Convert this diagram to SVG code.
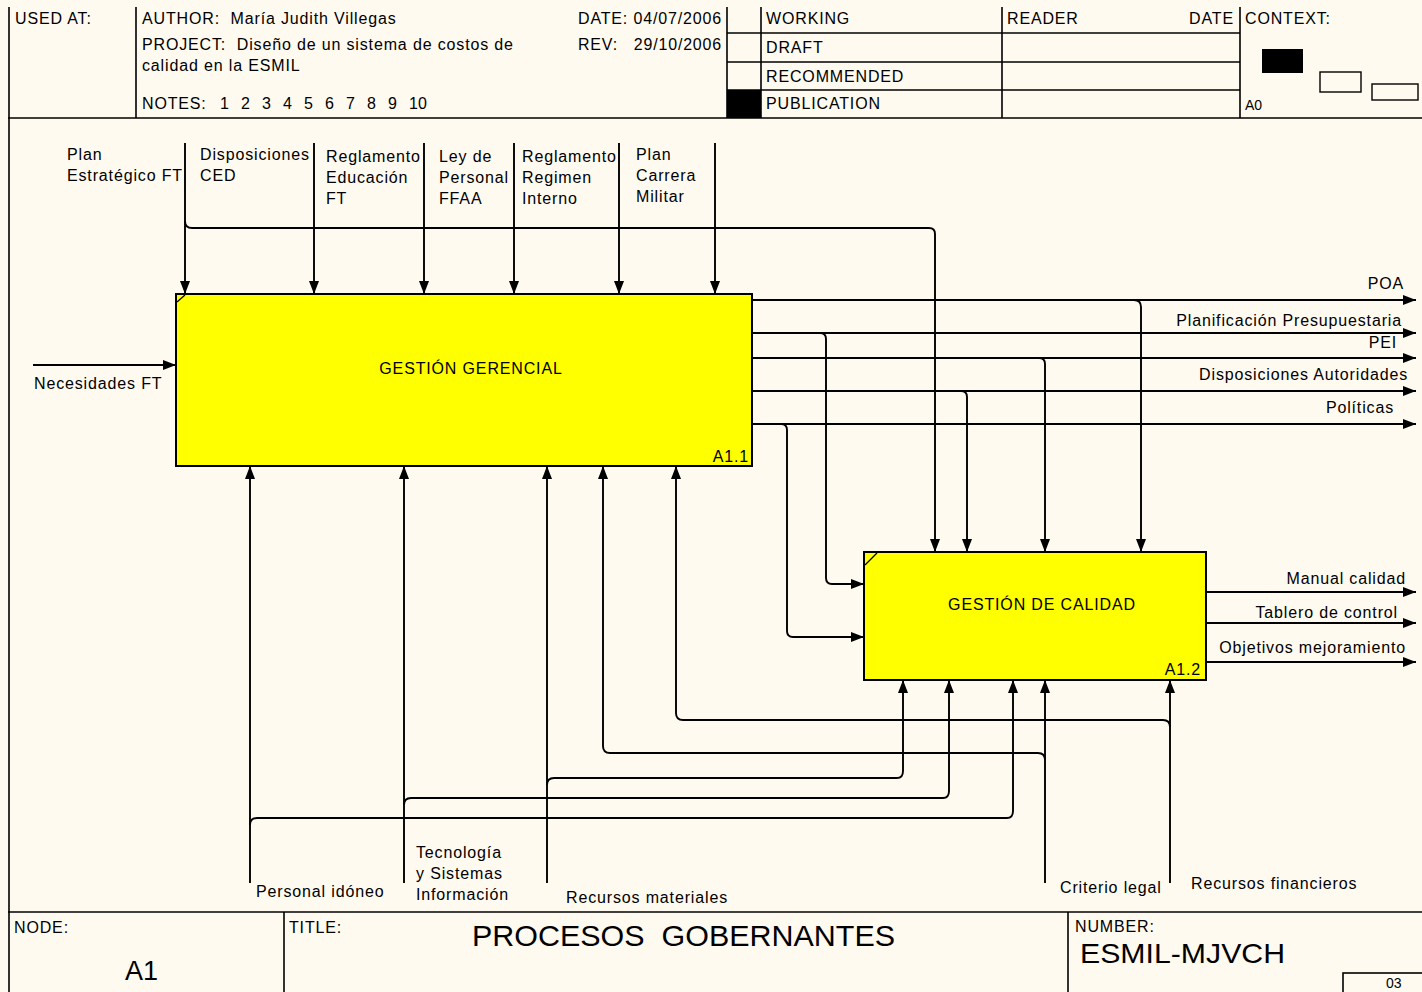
<svg xmlns="http://www.w3.org/2000/svg" width="1422" height="992" viewBox="0 0 1422 992">
<defs>
<style>
.t{font-family:"Liberation Sans",Arial,sans-serif;font-size:16px;fill:#000;letter-spacing:0.85px}
.e{text-anchor:end}
.m{text-anchor:middle}
.ln{stroke:#000;stroke-width:1.9;fill:none}
.ar{marker-end:url(#ah)}
.box{fill:#FFFF00;stroke:#000;stroke-width:2}
.fr{stroke:#000;stroke-width:1.6;fill:none}
</style>
<marker id="ah" markerUnits="userSpaceOnUse" markerWidth="13" markerHeight="11" refX="13" refY="5.5" orient="auto">
<path d="M0,0.5 L13,5.5 L0,10.5 Z" fill="#000"/>
</marker>
</defs>
<rect x="0" y="0" width="1422" height="992" fill="#FFFAF0"/>

<g id="frame">
<line class="fr" x1="9" y1="7" x2="9" y2="992"/>
<line class="fr" x1="8" y1="118" x2="1422" y2="118" stroke-width="2.2"/>
<line class="fr" x1="8" y1="912" x2="1422" y2="912" stroke-width="2.2"/>
<line class="fr" x1="136" y1="7" x2="136" y2="118"/>
<line class="fr" x1="727" y1="7" x2="727" y2="118"/>
<line class="fr" x1="761" y1="7" x2="761" y2="118"/>
<line class="fr" x1="1002" y1="7" x2="1002" y2="118"/>
<line class="fr" x1="1240" y1="7" x2="1240" y2="118"/>
<line class="fr" x1="727" y1="33" x2="1240" y2="33"/>
<line class="fr" x1="727" y1="62" x2="1240" y2="62"/>
<line class="fr" x1="727" y1="90" x2="1240" y2="90"/>
<rect x="727" y="90" width="34" height="28" fill="#000"/>
<rect x="1262" y="49" width="41" height="24" fill="#000"/>
<rect x="1320" y="72" width="41" height="20" fill="none" stroke="#000" stroke-width="1.4"/>
<rect x="1372" y="84" width="46" height="16" fill="none" stroke="#000" stroke-width="1.4"/>
<line class="fr" x1="284" y1="912" x2="284" y2="992"/>
<line class="fr" x1="1068" y1="912" x2="1068" y2="992"/>
<rect x="1343" y="973" width="82" height="22" fill="none" stroke="#000" stroke-width="1.6"/>
</g>

<g id="header-text" class="t">
<text x="15" y="24">USED AT:</text>
<text x="142" y="24">AUTHOR:&#160; María Judith Villegas</text>
<text x="578" y="24" textLength="144" lengthAdjust="spacingAndGlyphs">DATE: 04/07/2006</text>
<text x="142" y="50">PROJECT:&#160; Diseño de un sistema de costos de</text>
<text x="578" y="50" textLength="144" lengthAdjust="spacingAndGlyphs">REV:&#160;&#160; 29/10/2006</text>
<text x="142" y="71">calidad en la ESMIL</text>
<text x="142" y="109">NOTES:</text>
<text x="220 241 262 283 304 325 346 367 388 409 418" y="109" style="letter-spacing:0">12345678910</text>
<text x="766" y="24">WORKING</text>
<text x="1007" y="24">READER</text>
<text class="t e" x="1234" y="24">DATE</text>
<text x="1245" y="24">CONTEXT:</text>
<text x="766" y="53">DRAFT</text>
<text x="766" y="82">RECOMMENDED</text>
<text x="766" y="109">PUBLICATION</text>
<text x="1245" y="110" style="font-size:14px;letter-spacing:0">A0</text>
</g>

<g id="footer-text" class="t">
<text x="14" y="933">NODE:</text>
<text x="125" y="980" style="font-size:27px;letter-spacing:0">A1</text>
<text x="289" y="933">TITLE:</text>
<text x="472" y="946" style="font-size:30px;letter-spacing:0" textLength="423" lengthAdjust="spacingAndGlyphs">PROCESOS&#160; GOBERNANTES</text>
<text x="1075" y="932">NUMBER:</text>
<text x="1080" y="963" style="font-size:28px;letter-spacing:0" textLength="205" lengthAdjust="spacingAndGlyphs">ESMIL-MJVCH</text>
<text x="1386" y="988" style="font-size:14px;letter-spacing:0">03</text>
</g>

<g id="node-A1.1">
<rect class="box" x="176" y="294" width="576" height="172"/>
<line x1="177" y1="302" x2="185" y2="295" stroke="#000" stroke-width="1.2"/>
<text class="t m" x="471" y="374">GESTIÓN GERENCIAL</text>
<text class="t e" x="749" y="462">A1.1</text>
</g>

<g id="node-A1.2">
<rect class="box" x="864" y="552" width="342" height="128"/>
<line x1="865" y1="565" x2="877" y2="553" stroke="#000" stroke-width="1.2"/>
<text class="t m" x="1042" y="610">GESTIÓN DE CALIDAD</text>
<text class="t e" x="1201" y="675">A1.2</text>
</g>

<g id="connectors">
<path class="ln ar" d="M185,143 L185,294"/>
<path class="ln ar" d="M314,143 L314,294"/>
<path class="ln ar" d="M424,143 L424,294"/>
<path class="ln ar" d="M514,143 L514,294"/>
<path class="ln ar" d="M619,143 L619,294"/>
<path class="ln ar" d="M715,143 L715,294"/>
<path class="ln ar" d="M185,221 Q185,228 192,228 L929,228 Q935,228 935,234 L935,552"/>
<path class="ln ar" d="M33,365 L176,365"/>
<path class="ln ar" d="M752,300 L1416,300"/>
<path class="ln ar" d="M752,333 L1416,333"/>
<path class="ln ar" d="M752,358 L1416,358"/>
<path class="ln ar" d="M752,391 L1416,391"/>
<path class="ln ar" d="M752,424 L1416,424"/>
<path class="ln ar" d="M1134,300 Q1141,300 1141,307 L1141,552"/>
<path class="ln ar" d="M1039,358 Q1045,358 1045,364 L1045,552"/>
<path class="ln ar" d="M961,391 Q967,391 967,397 L967,552"/>
<path class="ln ar" d="M820,333 Q826,333 826,339 L826,578 Q826,584 832,584 L864,584"/>
<path class="ln ar" d="M781,424 Q787,424 787,430 L787,631 Q787,637 793,637 L864,637"/>
<path class="ln ar" d="M1206,592 L1416,592"/>
<path class="ln ar" d="M1206,623 L1416,623"/>
<path class="ln ar" d="M1206,662 L1416,662"/>
<path class="ln ar" d="M250,883 L250,466"/>
<path class="ln ar" d="M404,883 L404,466"/>
<path class="ln ar" d="M547,883 L547,466"/>
<path class="ln ar" d="M1045,883 L1045,680"/>
<path class="ln ar" d="M1170,883 L1170,680"/>
<path class="ln ar" d="M547,785 Q547,778 554,778 L897,778 Q903,778 903,771 L903,680"/>
<path class="ln ar" d="M404,805 Q404,798 411,798 L943,798 Q949,798 949,791 L949,680"/>
<path class="ln ar" d="M250,825 Q250,818 257,818 L1007,818 Q1013,818 1013,811 L1013,680"/>
<path class="ln ar" d="M1045,760 Q1045,753 1038,753 L610,753 Q603,753 603,746 L603,466"/>
<path class="ln ar" d="M1170,727 Q1170,720 1163,720 L683,720 Q676,720 676,713 L676,466"/>
</g>

<g id="labels" class="t">
<text x="67" y="160">Plan</text>
<text x="67" y="181">Estratégico FT</text>
<text x="200" y="160">Disposiciones</text>
<text x="200" y="181">CED</text>
<text x="326" y="162">Reglamento</text>
<text x="326" y="183">Educación</text>
<text x="326" y="204">FT</text>
<text x="439" y="162">Ley de</text>
<text x="439" y="183">Personal</text>
<text x="439" y="204">FFAA</text>
<text x="522" y="162">Reglamento</text>
<text x="522" y="183">Regimen</text>
<text x="522" y="204">Interno</text>
<text x="636" y="160">Plan</text>
<text x="636" y="181">Carrera</text>
<text x="636" y="202">Militar</text>
<text x="34" y="389">Necesidades FT</text>
<text class="t e" x="1404" y="289">POA</text>
<text class="t e" x="1402" y="326">Planificación Presupuestaria</text>
<text class="t e" x="1397" y="348">PEI</text>
<text class="t e" x="1408" y="380">Disposiciones Autoridades</text>
<text class="t e" x="1394" y="413">Políticas</text>
<text class="t e" x="1406" y="584">Manual calidad</text>
<text class="t e" x="1398" y="618">Tablero de control</text>
<text class="t e" x="1406" y="653">Objetivos mejoramiento</text>
<text x="256" y="897">Personal idóneo</text>
<text x="416" y="858">Tecnología</text>
<text x="416" y="879">y Sistemas</text>
<text x="416" y="900">Información</text>
<text x="566" y="903">Recursos materiales</text>
<text x="1060" y="893">Criterio legal</text>
<text x="1191" y="889">Recursos financieros</text>
</g>
</svg>
